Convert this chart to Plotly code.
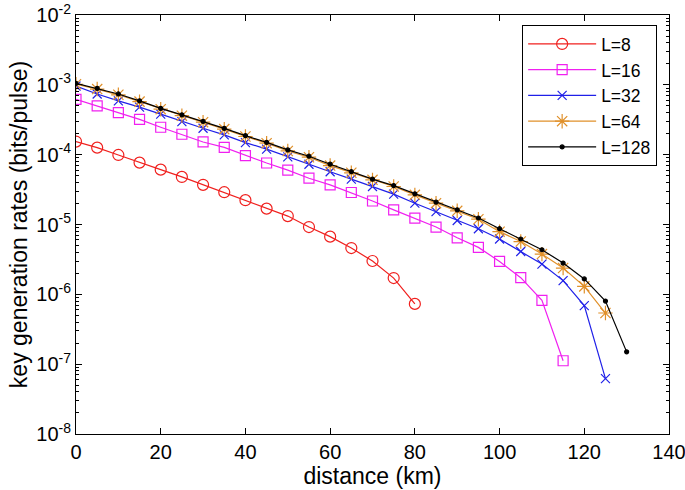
import plotly.graph_objects as go

d8 = [0, 5, 10, 15, 20, 25, 30, 35, 40, 45, 50, 55, 60, 65, 70, 75, 80]
r8 = [1.54e-4, 1.26e-4, 9.9e-5, 7.7e-5, 6.1e-5, 4.8e-5, 3.7e-5, 2.9e-5, 2.23e-5,
      1.69e-5, 1.32e-5, 9.2e-6, 6.7e-6, 4.6e-6, 3.0e-6, 1.71e-6, 7.3e-7]

d16 = [0, 5, 10, 15, 20, 25, 30, 35, 40, 45, 50, 55, 60, 65, 70, 75, 80, 85, 90,
       95, 100, 105, 110, 115]
r16 = [6.2e-4, 5.0e-4, 4.0e-4, 3.2e-4, 2.47e-4, 1.96e-4, 1.52e-4, 1.27e-4, 9.7e-5,
       7.6e-5, 6.0e-5, 4.6e-5, 3.7e-5, 2.87e-5, 2.17e-5, 1.62e-5, 1.23e-5, 9.2e-6,
       6.45e-6, 4.7e-6, 2.96e-6, 1.73e-6, 8.2e-7, 1.12e-7]

d32 = [0, 5, 10, 15, 20, 25, 30, 35, 40, 45, 50, 55, 60, 65, 70, 75, 80, 85, 90,
       95, 100, 105, 110, 115, 120, 125]
r32 = [9.6e-4, 7.4e-4, 5.9e-4, 4.8e-4, 3.8e-4, 2.98e-4, 2.39e-4, 1.92e-4, 1.49e-4,
       1.2e-4, 9.3e-5, 7.3e-5, 5.7e-5, 4.46e-5, 3.5e-5, 2.72e-5, 2.02e-5, 1.53e-5,
       1.14e-5, 8.7e-6, 6.2e-6, 4.1e-6, 2.71e-6, 1.57e-6, 6.9e-7, 6.2e-8]

d64 = [0, 5, 10, 15, 20, 25, 30, 35, 40, 45, 50, 55, 60, 65, 70, 75, 80, 85, 90,
       95, 100, 105, 110, 115, 120, 125]
r64 = [1.02e-3, 8.7e-4, 7.2e-4, 5.75e-4, 4.48e-4, 3.62e-4, 2.92e-4, 2.32e-4, 1.82e-4,
       1.46e-4, 1.13e-4, 9.2e-5, 6.98e-5, 5.5e-5, 4.36e-5, 3.5e-5, 2.66e-5, 2.02e-5,
       1.57e-5, 1.19e-5, 7.9e-6, 5.7e-6, 3.77e-6, 2.38e-6, 1.30e-6, 5.4e-7]

d128 = [0, 5, 10, 15, 20, 25, 30, 35, 40, 45, 50, 55, 60, 65, 70, 75, 80, 85, 90,
        95, 100, 105, 110, 115, 120, 125, 130]
r128 = [1.05e-3, 8.9e-4, 7.4e-4, 5.9e-4, 4.6e-4, 3.72e-4, 3.0e-4, 2.38e-4, 1.87e-4,
        1.5e-4, 1.17e-4, 9.5e-5, 7.3e-5, 5.7e-5, 4.46e-5, 3.61e-5, 2.75e-5, 2.09e-5,
        1.62e-5, 1.24e-5, 8.7e-6, 6.2e-6, 4.35e-6, 2.8e-6, 1.66e-6, 8.0e-7, 1.5e-7]

x_ticks = [0, 20, 40, 60, 80, 100, 120, 140]
y_tickvals = [1e-8, 1e-7, 1e-6, 1e-5, 1e-4, 1e-3, 1e-2]
y_ticktext = ["10<sup>-8</sup>", "10<sup>-7</sup>", "10<sup>-6</sup>", "10<sup>-5</sup>",
              "10<sup>-4</sup>", "10<sup>-3</sup>", "10<sup>-2</sup>"]

series = [
    ("L=8", d8, r8, "#F0201E", "circle-open", 11),
    ("L=16", d16, r16, "#F020F0", "square-open", 10),
    ("L=32", d32, r32, "#2020E8", "x-thin-open", 9),
    ("L=64", d64, r64, "#E0902A", "asterisk-open", 12),
    ("L=128", d128, r128, "#000000", "circle", 4),
]

fig = go.Figure()
for name, xs, ys, col, sym, sz in series:
    fig.add_trace(go.Scatter(
        x=xs, y=ys, name=name, mode="lines+markers",
        line=dict(color=col, width=1.2),
        marker=dict(symbol=sym, size=sz, color=col, line=dict(color=col, width=1.2)),
    ))
# invisible trace to host the mirrored right axis (minor ticks on right side)
fig.add_trace(go.Scatter(x=[None], y=[None], yaxis="y2", showlegend=False,
                         hoverinfo="skip"))

font = "Liberation Sans, Arial, Helvetica, sans-serif"
yaxis_common = dict(
    type="log", range=[-8, -2], tickvals=y_tickvals,
    ticks="inside", ticklen=6, tickcolor="black",
    showgrid=False, zeroline=False, automargin=False,
    minor=dict(ticks="inside", ticklen=3, dtick="D1", showgrid=False, tickcolor="black"),
)
fig.update_layout(
    width=685, height=490,
    margin=dict(l=76, r=16, t=15, b=56),
    paper_bgcolor="white", plot_bgcolor="white",
    font=dict(family=font, size=20, color="black"),
    showlegend=True,
    legend=dict(
        x=0.98, y=0.976, xanchor="right", yanchor="top",
        bordercolor="black", borderwidth=1, bgcolor="white",
        font=dict(size=17.5), itemwidth=68, tracegroupgap=0,
    ),
    xaxis=dict(
        range=[0, 140], tickvals=x_ticks, ticks="inside", ticklen=6, tickcolor="black",
        showline=True, linecolor="black", linewidth=1, mirror="ticks",
        showgrid=False, zeroline=False, automargin=False,
        title=dict(text="distance (km)", font=dict(size=23), standoff=2),
        tickfont=dict(size=20),
        ticklabeloverflow="allow",
    ),
    yaxis=dict(
        **yaxis_common,
        ticktext=y_ticktext,
        showline=True, linecolor="black", linewidth=1, mirror=True,
        title=dict(text="key generation rates (bits/pulse)", font=dict(size=23), standoff=2),
        tickfont=dict(size=20),
        ticklabeloverflow="allow",
    ),
    yaxis2=dict(
        **yaxis_common,
        overlaying="y", side="right", showticklabels=False, showline=False,
    ),
)

fig.write_html(
    "out.html",
    config={"displayModeBar": False},
    post_script="document.body.style.margin='0';document.body.style.overflow='hidden';",
)
